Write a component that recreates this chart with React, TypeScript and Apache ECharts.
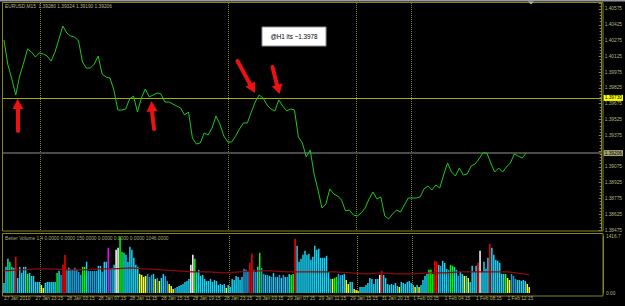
import React, { useEffect, useRef } from "react";
import * as echarts from "echarts";

// ---------- data ----------
const SLOT_COUNT = 305; // M15 slots on the time axis, incl. chart shift on the right
const timeLabels = [
  "27 Jan 2010", "27 Jan 23:15", "28 Jan 03:15", "28 Jan 07:15", "28 Jan 11:15",
  "28 Jan 15:15", "28 Jan 19:15", "28 Jan 23:15", "29 Jan 03:15", "29 Jan 07:15",
  "29 Jan 11:15", "29 Jan 15:15", "31 Jan 20:15", "1 Feb 00:15", "1 Feb 04:15",
  "1 Feb 08:15", "1 Feb 12:15",
];
const LABEL_STEP = 16;
const daySeparators = [19, 115, 180, 208];

const PRICE_SAMPLE_STEP = 2; // one close read every 2 bars
const priceCloses = [
  1.4028, 1.40043, 1.3991, 1.39758, 1.39938, 1.40062, 1.40195, 1.40166, 1.40119, 1.40157,
  1.40147, 1.40128, 1.40081, 1.40166, 1.4029, 1.40413, 1.40347, 1.40318, 1.40309, 1.40271,
  1.40071, 1.40014, 1.40014, 1.40052, 1.40128, 1.39957, 1.39929, 1.39919, 1.39805, 1.39615,
  1.39615, 1.39625, 1.3972, 1.39748, 1.39596, 1.39729, 1.39815, 1.39739, 1.39758, 1.39777,
  1.39767, 1.39691, 1.39691, 1.39672, 1.39653, 1.39634, 1.39568, 1.39596, 1.39349, 1.39292,
  1.39302, 1.39397, 1.39378, 1.39444, 1.39558, 1.39482, 1.39368, 1.39311, 1.39311, 1.39368,
  1.39435, 1.39492, 1.39492, 1.39596, 1.39691, 1.39758, 1.39729, 1.39663, 1.39625, 1.39606,
  1.3971, 1.39653, 1.39606, 1.39625, 1.39615, 1.39359, 1.39302, 1.39169, 1.39235, 1.39007,
  1.38855, 1.38684, 1.38722, 1.38865, 1.38817, 1.38798, 1.3876, 1.38656, 1.38665, 1.38618,
  1.38608, 1.38637, 1.38684, 1.3877, 1.38836, 1.3877, 1.38789, 1.38608, 1.3858, 1.38627,
  1.38665, 1.38646, 1.38713, 1.38779, 1.38779, 1.38779, 1.38789, 1.38865, 1.38893, 1.38855,
  1.38903, 1.38874, 1.38998, 1.39112, 1.39026, 1.38988, 1.39064, 1.38998, 1.39007, 1.39083,
  1.39102, 1.3915, 1.39207, 1.39207, 1.39112, 1.39026, 1.39064, 1.39026, 1.39074, 1.39112,
  1.39197, 1.39178, 1.39159, 1.39206,
];

const volumes = [
  250, 650, 850, 775, 650, 625, 900, 375, 650, 500,
  650, 650, 475, 500, 425, 425, 275, 275, 275, 200,
  125, 250, 275, 275, 275, 275, 275, 500, 550, 450,
  700, 950, 575, 625, 575, 575, 625, 575, 525, 450,
  650, 650, 775, 550, 550, 550, 550, 550, 675, 675,
  525, 775, 775, 1125, 600, 625, 700, 1075, 1125, 1400,
  1025, 1000, 950, 775, 1150, 1075, 875, 700, 650, 475,
  450, 400, 425, 475, 400, 450, 475, 350, 375, 300,
  375, 475, 425, 300, 225, 175, 100, 125, 150, 175,
  200, 225, 275, 300, 350, 700, 950, 850, 525, 575,
  425, 450, 350, 300, 300, 350, 275, 325, 300,
  200, 225, 200, 225, 125, 200, 150, 350, 325, 425,
  400, 325, 400, 600, 575, 525, 750, 975, 575, 525,
  650, 1000, 625, 475, 450, 450, 425, 400, 500, 400,
  400, 450, 375, 450, 400, 400, 475, 450, 475, 1350,
  1175, 775, 850, 950, 1050, 950, 975, 825, 900, 1175,
  1075, 1100, 875, 875, 875, 925, 525, 350, 350, 375,
  400, 475, 450, 450, 475, 325, 225, 275, 275, 100,
  75, 50, 150, 150, 150, 200, 250, 375, 350, 225,
  350, 350, 450, 550, 450, 375, 225, 200, 225, 200,
  250, 175, 150, 275, 250, 225, 275, 300, 250, 200,
  150,
  200, 150, 200, 325, 425, 475, 575, 575, 475, 800,
  775, 700, 675, 800, 750, 600, 575, 700, 675, 650,
  575, 425, 525, 475, 425, 425, 375, 275, 675, 525,
  675, 750, 1050, 525, 775, 600, 875, 1225, 1125, 950,
  825, 800, 750, 475, 475, 475, 375, 325, 475, 425,
  350, 325, 325, 300, 325, 300, 225, 150,
];
// c/b = normal (two blues), y = low, r = climax, g = churn, w = climax down, m = climax churn
const volumeKinds = (
  "cccgccrccc" + "ccgccccccy" + "yccccccgcb" + "rrbcbbbbbb" + "ggcbbbbbcc" +
  "bccmbbcwwg" + "gccccccccy" + "yyybbbcyby" + "ccbbyyybcc" + "cccccwwgcc" +
  "ccccccccc" +
  "ccccyccccc" + "cccbbbrrbb" + "cgbbcbcbcb" + "cbcbcbcggr" + "cccccccccc" +
  "cccccccbyg" + "gbbccyyccy" + "yycccccccc" + "ccwrcccccc" + "ccyccccccc" +
  "y" +
  "cyccccgggr" + "rcbcccbggc" + "cbccycyccc" + "crwccccrcc" + "cccccgyybb" +
  "bcccccyy"
).split("");

const MA_SAMPLE_STEP = 8;
const volumeMA = [
  550, 575, 600, 600, 575, 575, 600, 600, 625, 600, 575, 550, 525, 525, 500, 525, 550, 550,
  525, 525, 525, 525, 500, 475, 500, 475, 475, 500, 500, 525, 525, 525, 525, 475, 450,
];

const PRICE_MIN = 1.38475;
const PRICE_MAX = 1.40632;
const PRICE_TICK = 0.0015;
const levelLine = 1.3973;
const bidPrice = 1.39206;
const VOL_MAX = 1416.7;
const volAxisLabels = ["0.00", "1416.7"];

const headerText = "EURUSD,M15  1.39280 1.39324 1.39190 1.39206";
const volumeHeader =
  "Better Volume 1.4 0.0000 0.0000 150.0000 0.0000 0.0000 0.0000 1046.0000";
const noteText = "@H1 its ~1.3978";

// ---------- styles ----------
const OLIVE = "#85851e";
const LABEL = "#b3b37a";
const FONT = "Liberation Sans";
const FS = 4.8;
const kindColor: Record<string, string> = {
  c: "#17d2f5",
  b: "#1e9ad8",
  y: "#ffff00",
  r: "#ff0000",
  g: "#00ff00",
  w: "#ffffff",
  m: "#ff00ff",
};

function arrow(shaft: number[][], head: number[][]) {
  return [
    {
      type: "polyline",
      shape: { points: shaft },
      style: { stroke: "#ee1111", lineWidth: 4, lineCap: "round", fill: "none" },
      z: 100,
    },
    {
      type: "polygon",
      shape: { points: head },
      style: { fill: "#ee1111" },
      z: 100,
    },
  ];
}

export default function App() {
  const ref = useRef<HTMLDivElement>(null);

  useEffect(() => {
    if (!ref.current) return;
    const chart = echarts.init(ref.current, undefined, { renderer: "svg" });

    const cats = Array.from({ length: SLOT_COUNT }, (_, i) => String(i));
    const priceData: (number | null)[] = Array(SLOT_COUNT).fill(null);
    priceCloses.forEach((p, k) => (priceData[k * PRICE_SAMPLE_STEP] = p));
    const maData: (number | null)[] = Array(SLOT_COUNT).fill(null);
    volumeMA.forEach((v, k) => (maData[Math.min(k * MA_SAMPLE_STEP, volumes.length - 1)] = v));
    const volData = volumes.map((v, i) => ({
      value: v,
      itemStyle: { color: kindColor[volumeKinds[i]] || kindColor.c },
    }));

    const sepLine = {
      show: true,
      interval: (i: number) => daySeparators.includes(i),
      lineStyle: { color: OLIVE, type: "dotted", width: 1 },
    };

    const option: any = {
      backgroundColor: "#000",
      animation: false,
      textStyle: { fontFamily: FONT },
      grid: [
        { left: 3, top: 3, width: 600, height: 227 },
        { left: 3, top: 236, width: 600, height: 57 },
      ],
      xAxis: [
        {
          type: "category",
          gridIndex: 0,
          data: cats,
          boundaryGap: true,
          axisLine: { show: false },
          axisTick: { show: false },
          axisLabel: { show: false },
          splitLine: sepLine,
        },
        {
          type: "category",
          gridIndex: 1,
          data: cats,
          boundaryGap: true,
          axisLine: { show: false },
          axisTick: { show: false },
          axisLabel: {
            show: true,
            interval: (i: number) => i % LABEL_STEP === 0 && i / LABEL_STEP < timeLabels.length,
            formatter: (_v: string, i: number) => timeLabels[Math.round(i / LABEL_STEP)] || "",
            align: "left",
            color: LABEL,
            fontSize: FS,
            fontFamily: FONT,
            margin: 3,
          },
          splitLine: sepLine,
        },
      ],
      yAxis: [
        {
          type: "value",
          gridIndex: 0,
          position: "right",
          min: PRICE_MIN,
          max: PRICE_MAX,
          interval: PRICE_TICK,
          axisLine: { show: true, lineStyle: { color: OLIVE } },
          axisTick: { show: true, inside: true, length: 3, lineStyle: { color: OLIVE } },
          minorTick: { show: true, splitNumber: 5, length: 2, lineStyle: { color: OLIVE } },
          splitLine: { show: false },
          axisLabel: {
            color: LABEL,
            fontSize: FS,
            fontFamily: FONT,
            margin: 3,
            showMaxLabel: false,
            // the tick label under the bid marker is covered in the terminal
            formatter: (v: number) => (Math.abs(v - bidPrice) < 0.0004 ? "" : v.toFixed(5)),
          },
        },
        {
          type: "value",
          gridIndex: 1,
          position: "right",
          min: 0,
          max: VOL_MAX,
          interval: VOL_MAX,
          axisLine: { show: true, lineStyle: { color: OLIVE } },
          axisTick: { show: false },
          splitLine: { show: false },
          axisLabel: {
            color: LABEL,
            fontSize: FS,
            fontFamily: FONT,
            margin: 3,
            formatter: (v: number) => (v === 0 ? volAxisLabels[0] : volAxisLabels[1]),
          },
        },
      ],
      series: [
        {
          type: "line",
          xAxisIndex: 0,
          yAxisIndex: 0,
          data: priceData,
          connectNulls: true,
          showSymbol: false,
          symbol: "none",
          lineStyle: { color: "#1ec81e", width: 1 },
          z: 5,
          markLine: {
            silent: true,
            symbol: ["none", "none"],
            precision: 5,
            animation: false,
            data: [
              {
                yAxis: levelLine,
                lineStyle: { color: "#aaaa00", width: 1, type: "solid" },
                label: {
                  show: true,
                  position: "end",
                  distance: 2,
                  formatter: levelLine.toFixed(5),
                  color: "#000",
                  backgroundColor: "#ffff00",
                  padding: [1, 1, 0, 1],
                  fontSize: FS,
                  fontFamily: FONT,
                },
              },
              {
                yAxis: bidPrice,
                lineStyle: { color: "#4a4a4a", width: 2, type: "solid" },
                label: {
                  show: true,
                  position: "end",
                  distance: 2,
                  formatter: bidPrice.toFixed(5),
                  color: "#000",
                  backgroundColor: "#a0a070",
                  padding: [1, 1, 0, 1],
                  fontSize: FS,
                  fontFamily: FONT,
                },
              },
            ],
          },
        },
        {
          type: "bar",
          xAxisIndex: 1,
          yAxisIndex: 1,
          data: volData,
          barWidth: 1.5,
        },
        {
          type: "line",
          xAxisIndex: 1,
          yAxisIndex: 1,
          data: maData,
          connectNulls: true,
          showSymbol: false,
          symbol: "none",
          lineStyle: { color: "#8e0a0a", width: 1.3 },
          z: 6,
        },
      ],
      graphic: [
        { type: "rect", shape: { x: 0, y: 0, width: 625, height: 1.5 }, style: { fill: "#9a9a9a" } },
        {
          type: "rect",
          shape: { x: 2.5, y: 2.5, width: 600.5, height: 228.5 },
          style: { fill: "none", stroke: OLIVE, lineWidth: 1 },
        },
        {
          type: "rect",
          shape: { x: 2.5, y: 233.5, width: 600.5, height: 62.5 },
          style: { fill: "none", stroke: OLIVE, lineWidth: 1 },
        },
        {
          type: "polygon",
          shape: { points: [[528, 1.5], [534, 1.5], [531, 4.5]] },
          style: { fill: "#b0b0b0" },
        },
        {
          type: "text",
          x: 5,
          y: 6,
          style: { text: headerText, fill: "#b8b890", fontSize: FS, fontFamily: FONT, verticalAlign: "middle" },
        },
        {
          type: "text",
          x: 5,
          y: 238.5,
          style: { text: volumeHeader, fill: "#a8a880", fontSize: FS, fontFamily: FONT, verticalAlign: "middle" },
        },
        {
          type: "rect",
          shape: { x: 262, y: 27, width: 64, height: 19 },
          style: { fill: "#ffffff", stroke: "#909090", lineWidth: 1 },
          z: 100,
        },
        {
          type: "text",
          x: 294,
          y: 36.5,
          style: {
            text: noteText,
            fill: "#000",
            fontSize: 6.3,
            fontFamily: FONT,
            align: "center",
            verticalAlign: "middle",
          },
          z: 101,
        },
        ...arrow([[18, 131], [18, 108]], [[12.5, 109], [23.5, 109], [17.5, 99]]),
        ...arrow([[154, 129], [152, 111]], [[146.5, 112], [157.5, 111], [151.5, 101]]),
        ...arrow([[237.5, 61], [250, 84]], [[245.4, 86.8], [255, 81.6], [255, 93]]),
        ...arrow([[272.5, 67], [277, 85]], [[271.8, 86.2], [282.4, 83.4], [279.5, 94]]),
      ],
    };

    chart.setOption(option);
    return () => chart.dispose();
  }, []);

  return (
    <div
      ref={ref}
      style={{ position: "fixed", left: 0, top: 0, width: 625, height: 306, background: "#000" }}
    />
  );
}
